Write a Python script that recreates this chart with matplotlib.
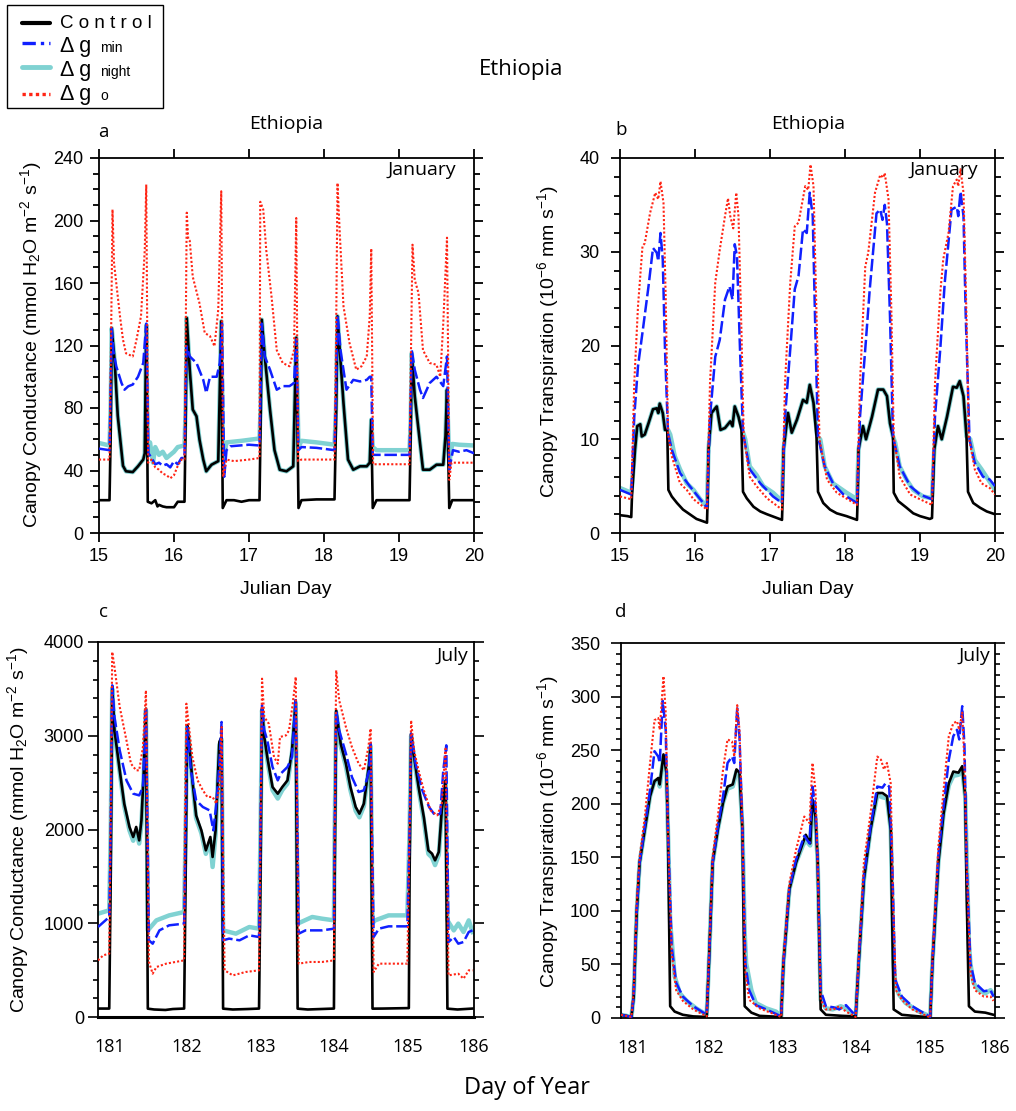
import numpy as np
import matplotlib
matplotlib.use('Agg')
import matplotlib.pyplot as plt
from matplotlib.lines import Line2D
from matplotlib.patches import Rectangle
from matplotlib.ticker import MultipleLocator, NullLocator

plt.rcParams['font.family'] = ['Liberation Sans', 'DejaVu Sans']
plt.rcParams['mathtext.fontset'] = 'custom'
plt.rcParams['mathtext.rm'] = 'Liberation Sans'
plt.rcParams['mathtext.it'] = 'Liberation Sans:italic'

# ---- data: (day, value) ----
# a: January canopy conductance
a_control = [(15.00, 21), (15.14, 21), (15.155, 60), (15.17, 131), (15.21, 109), (15.25, 75), (15.32, 43), (15.36, 39.5),
             (15.45, 39), (15.52, 42.7), (15.59, 47), (15.61, 51), (15.63, 133), (15.65, 20), (15.70, 19), (15.75, 21),
             (15.78, 17), (15.80, 18), (15.85, 17), (15.90, 16.5), (16.00, 16.5), (16.05, 20), (16.14, 20),
             (16.155, 70), (16.17, 137.6), (16.21, 104.5), (16.25, 79), (16.30, 74.7), (16.34, 59.7), (16.39, 47),
             (16.43, 39.5), (16.50, 43.7), (16.59, 46), (16.63, 135.5), (16.65, 16), (16.70, 21), (16.80, 21),
             (16.90, 20), (17.00, 21), (17.14, 21),
             (17.155, 70), (17.17, 136.5), (17.21, 113), (17.28, 79), (17.34, 53), (17.41, 40.5), (17.50, 39.5),
             (17.59, 42.7), (17.63, 125), (17.66, 16), (17.70, 21), (17.90, 21.5), (18.14, 21.5),
             (18.16, 70), (18.18, 138.7), (18.21, 117), (18.26, 83), (18.32, 47), (18.39, 40.5), (18.48, 42.7),
             (18.57, 42.7), (18.61, 45), (18.63, 72.5), (18.65, 16), (18.70, 21), (19.14, 21),
             (19.155, 60), (19.17, 115), (19.21, 87.5), (19.28, 57.6), (19.32, 40.5), (19.41, 40.5), (19.50, 43.7),
             (19.59, 43.7), (19.62, 62), (19.64, 91.7), (19.67, 16), (19.71, 21), (20.00, 21)]
a_night = [(15.00, 57.6), (15.14, 56), (15.155, 80), (15.17, 131), (15.21, 109), (15.25, 75), (15.32, 43), (15.36, 39.5),
           (15.45, 39), (15.52, 42.7), (15.59, 47), (15.61, 51), (15.63, 133), (15.65, 50), (15.68, 58), (15.72, 45),
           (15.75, 55), (15.80, 50), (15.85, 52), (15.90, 48), (15.95, 50), (16.00, 52), (16.05, 55), (16.14, 56),
           (16.155, 80), (16.17, 137.6), (16.21, 104.5), (16.25, 79), (16.30, 74.7), (16.34, 59.7), (16.39, 47),
           (16.43, 39.5), (16.50, 43.7), (16.59, 46), (16.63, 135.5), (16.655, 45), (16.70, 58), (16.90, 59), (17.14, 60.5),
           (17.155, 80), (17.17, 136.5), (17.21, 113), (17.28, 79), (17.34, 53), (17.41, 40.5), (17.50, 39.5),
           (17.59, 42.7), (17.63, 125), (17.66, 55), (17.70, 59), (17.90, 58), (18.14, 56.5),
           (18.16, 80), (18.18, 138.7), (18.21, 117), (18.26, 83), (18.32, 47), (18.39, 40.5), (18.48, 42.7),
           (18.57, 42.7), (18.61, 45), (18.63, 72.5), (18.65, 55), (18.70, 53), (19.14, 53),
           (19.155, 70), (19.17, 115), (19.21, 87.5), (19.28, 57.6), (19.32, 40.5), (19.41, 40.5), (19.50, 43.7),
           (19.59, 43.7), (19.62, 62), (19.64, 91.7), (19.67, 45), (19.71, 57), (19.80, 56.5), (20.00, 56)]
a_gmin = [(15.00, 54), (15.14, 53), (15.155, 90), (15.17, 131), (15.19, 117), (15.23, 106.7), (15.30, 96), (15.34, 91.7),
          (15.39, 93.9), (15.45, 95), (15.52, 100), (15.59, 108.8), (15.63, 134), (15.66, 51), (15.70, 48), (15.75, 44),
          (15.80, 45), (15.85, 43), (15.90, 44), (15.95, 42), (16.00, 46), (16.05, 44), (16.10, 48), (16.14, 48),
          (16.155, 90), (16.17, 119.5), (16.21, 113), (16.30, 108.8), (16.39, 98), (16.43, 89.6), (16.48, 100),
          (16.57, 100), (16.61, 108.8), (16.64, 134), (16.67, 36), (16.70, 53), (16.75, 55.5), (17.00, 56.5), (17.14, 56),
          (17.155, 90), (17.17, 134), (17.21, 113), (17.28, 104.5), (17.37, 91.7), (17.45, 94), (17.54, 94), (17.60, 96),
          (17.63, 124), (17.66, 53), (17.70, 55), (17.90, 54.5), (18.14, 53),
          (18.16, 90), (18.18, 139.7), (18.22, 117), (18.30, 91.7), (18.39, 98), (18.48, 97), (18.57, 98), (18.61, 100),
          (18.63, 100), (18.65, 50), (18.70, 50), (19.14, 50),
          (19.155, 80), (19.17, 117), (19.21, 104.5), (19.28, 91.7), (19.32, 86.4), (19.41, 96), (19.50, 100), (19.59, 94),
          (19.64, 113), (19.67, 40.5), (19.72, 53), (19.80, 52), (19.90, 53), (20.00, 51)]
a_go = [(15.00, 47), (15.14, 47), (15.16, 120), (15.18, 207), (15.20, 173), (15.23, 160), (15.28, 138.7), (15.32, 123.7),
        (15.36, 115), (15.45, 113), (15.50, 123.7), (15.56, 138.7), (15.61, 181), (15.63, 223), (15.655, 45), (15.70, 47),
        (15.75, 42), (15.80, 40.5), (15.85, 38), (15.90, 37), (15.95, 35), (16.00, 37), (16.05, 43), (16.10, 47), (16.14, 47),
        (16.155, 120), (16.17, 205), (16.19, 188), (16.21, 187), (16.25, 164), (16.34, 147), (16.41, 128), (16.48, 126),
        (16.54, 119.5), (16.59, 143), (16.63, 218.7), (16.655, 36), (16.70, 47), (16.80, 46), (17.00, 47), (17.14, 48),
        (17.15, 212), (17.19, 207), (17.23, 181), (17.30, 151.5), (17.37, 117), (17.45, 108.8), (17.54, 106.7),
        (17.60, 117), (17.63, 201.6), (17.655, 46), (17.70, 47), (18.14, 47),
        (18.16, 120), (18.18, 224), (18.21, 192), (18.26, 145), (18.34, 121.6), (18.43, 104.5), (18.50, 106.7),
        (18.57, 113), (18.61, 138.7), (18.63, 182), (18.655, 44), (19.14, 44),
        (19.155, 100), (19.18, 184.5), (19.21, 162), (19.26, 153.6), (19.32, 117), (19.41, 108.8), (19.50, 107.7),
        (19.55, 100), (19.59, 134), (19.64, 189), (19.67, 34), (19.70, 45), (20.00, 45)]

# b: January canopy transpiration
b_control = [(15.00, 1.9), (15.10, 1.8), (15.15, 1.7), (15.16, 4.0), (15.20, 8.9), (15.23, 11.4), (15.27, 11.6), (15.29, 10.3),
             (15.33, 10.5), (15.38, 11.7), (15.44, 13.2), (15.49, 13.3), (15.51, 12.8), (15.53, 13.8), (15.57, 12.8),
             (15.60, 11.0), (15.63, 11.0), (15.645, 4.6), (15.69, 3.9), (15.76, 3.2), (15.84, 2.5), (15.93, 2.0),
             (16.02, 1.5), (16.16, 1.1),
             (16.17, 4.0), (16.18, 8.9), (16.22, 12.8), (16.29, 13.5), (16.34, 11.0), (16.40, 11.2), (16.47, 11.9),
             (16.50, 11.4), (16.53, 13.5), (16.58, 12.4), (16.62, 11.0), (16.64, 4.4), (16.69, 3.7), (16.78, 2.8),
             (16.87, 2.3), (16.96, 2.0), (17.16, 1.4),
             (17.17, 4.0), (17.18, 8.9), (17.24, 12.8), (17.29, 10.7), (17.36, 12.1), (17.44, 14.2), (17.49, 13.9),
             (17.53, 15.8), (17.58, 13.9), (17.62, 10.3), (17.64, 4.4), (17.71, 3.2), (17.80, 2.5), (17.89, 2.1),
             (18.02, 1.8), (18.16, 1.4),
             (18.17, 4.0), (18.18, 8.9), (18.24, 11.4), (18.28, 10.0), (18.36, 12.4), (18.44, 15.3), (18.51, 15.3),
             (18.56, 14.6), (18.60, 11.7), (18.64, 10.3), (18.65, 4.3), (18.71, 3.4), (18.82, 2.7), (18.91, 2.1),
             (19.00, 1.8), (19.13, 1.5), (19.16, 1.6),
             (19.17, 4.0), (19.19, 8.9), (19.24, 11.4), (19.29, 10.0), (19.36, 12.4), (19.44, 15.6), (19.49, 15.5),
             (19.53, 16.2), (19.58, 14.6), (19.62, 10.3), (19.64, 4.4), (19.71, 3.2), (19.80, 2.7), (19.89, 2.3),
             (20.00, 2.0)]
b_night = [(15.00, 4.8), (15.15, 4.3), (15.16, 5.0), (15.20, 8.9), (15.23, 11.4), (15.27, 11.6), (15.29, 10.3), (15.33, 10.5),
           (15.38, 11.7), (15.44, 13.2), (15.49, 13.3), (15.51, 12.8), (15.53, 13.8), (15.57, 12.8), (15.60, 11.0),
           (15.64, 11.0), (15.67, 10.5), (15.73, 8.2), (15.80, 6.8), (15.89, 5.3), (15.98, 4.6), (16.07, 3.6), (16.16, 2.8),
           (16.18, 8.9), (16.22, 12.8), (16.29, 13.5), (16.34, 11.0), (16.40, 11.2), (16.47, 11.9), (16.50, 11.4),
           (16.53, 13.5), (16.58, 12.4), (16.63, 11.0), (16.67, 10.0), (16.73, 7.1), (16.82, 6.2), (16.91, 5.0),
           (17.04, 4.3), (17.16, 3.4),
           (17.18, 8.9), (17.24, 12.8), (17.29, 10.7), (17.36, 12.1), (17.44, 14.2), (17.49, 13.9), (17.53, 15.8),
           (17.58, 13.9), (17.63, 10.3), (17.67, 10.0), (17.73, 7.1), (17.84, 5.3), (17.93, 4.8), (18.02, 4.3), (18.16, 3.6),
           (18.18, 8.9), (18.24, 11.4), (18.28, 10.0), (18.36, 12.4), (18.44, 15.3), (18.51, 15.3), (18.56, 14.6),
           (18.60, 11.7), (18.64, 10.3), (18.67, 9.6), (18.73, 7.1), (18.82, 5.7), (18.91, 4.6), (19.04, 3.9), (19.16, 3.7),
           (19.19, 8.9), (19.24, 11.4), (19.29, 10.0), (19.36, 12.4), (19.44, 15.6), (19.49, 15.5), (19.53, 16.2),
           (19.58, 14.6), (19.62, 10.3), (19.67, 10.0), (19.73, 7.8), (19.82, 6.8), (19.91, 5.7), (20.00, 4.6)]
b_gmin = [(15.00, 4.6), (15.15, 4.1), (15.19, 12.4), (15.24, 17.8), (15.31, 22.0), (15.38, 26.3), (15.44, 30.4), (15.49, 29.9),
          (15.51, 29.0), (15.54, 32.0), (15.57, 29.2), (15.60, 19.6), (15.64, 10.7), (15.69, 8.9), (15.80, 6.4), (15.93, 5.0),
          (16.07, 3.6), (16.16, 2.7),
          (16.20, 12.4), (16.27, 18.8), (16.33, 20.6), (16.40, 24.9), (16.46, 26.3), (16.50, 24.9), (16.53, 30.8),
          (16.56, 29.5), (16.60, 19.6), (16.64, 10.7), (16.73, 6.8), (16.87, 5.3), (17.04, 3.9), (17.16, 3.2),
          (17.20, 12.4), (17.27, 19.6), (17.33, 26.0), (17.38, 27.4), (17.44, 32.4), (17.49, 32.0), (17.53, 36.3),
          (17.57, 33.8), (17.60, 23.1), (17.64, 10.3), (17.73, 7.1), (17.84, 5.3), (17.98, 4.1), (18.16, 3.2),
          (18.20, 12.4), (18.27, 19.6), (18.33, 26.0), (18.42, 34.1), (18.47, 34.5), (18.50, 33.4), (18.53, 35.0),
          (18.56, 33.0), (18.60, 23.1), (18.64, 10.3), (18.73, 7.1), (18.87, 5.0), (19.00, 4.1), (19.16, 3.6),
          (19.20, 12.4), (19.27, 19.6), (19.33, 26.7), (19.42, 34.5), (19.49, 34.8), (19.51, 33.8), (19.54, 36.4),
          (19.58, 33.8), (19.61, 23.1), (19.66, 10.0), (19.73, 7.5), (19.84, 6.0), (19.93, 5.7), (20.00, 5.0)]
b_go = [(15.00, 3.9), (15.15, 3.6), (15.19, 16.0), (15.24, 24.2), (15.30, 30.6), (15.33, 30.9), (15.40, 34.1), (15.47, 36.3),
        (15.51, 35.6), (15.54, 37.5), (15.58, 35.2), (15.61, 24.9), (15.64, 10.7), (15.69, 8.2), (15.80, 5.3), (15.89, 4.6),
        (15.98, 3.6), (16.16, 2.5),
        (16.20, 16.0), (16.27, 26.7), (16.33, 30.2), (16.40, 33.8), (16.44, 35.7), (16.47, 33.8), (16.51, 32.5),
        (16.55, 36.3), (16.58, 33.8), (16.62, 21.3), (16.65, 10.3), (16.73, 6.0), (16.82, 5.0), (16.96, 3.7), (17.16, 2.5),
        (17.20, 16.0), (17.27, 26.7), (17.33, 32.7), (17.38, 33.1), (17.47, 37.0), (17.51, 36.6), (17.54, 39.3),
        (17.58, 37.0), (17.61, 26.7), (17.66, 10.0), (17.76, 5.7), (17.89, 4.3), (18.16, 3.0),
        (18.20, 16.0), (18.27, 28.4), (18.31, 29.9), (18.40, 36.3), (18.47, 38.2), (18.51, 37.9), (18.53, 38.4),
        (18.58, 35.6), (18.62, 23.1), (18.65, 10.3), (18.73, 6.0), (18.87, 4.1), (19.00, 3.6), (19.16, 3.0),
        (19.20, 16.0), (19.27, 25.6), (19.31, 29.2), (19.38, 32.0), (19.44, 37.0), (19.49, 37.7), (19.51, 37.0),
        (19.54, 38.8), (19.58, 36.3), (19.62, 23.1), (19.65, 10.3), (19.73, 6.8), (19.82, 5.3), (19.93, 4.8), (20.00, 4.1)]

# c: July canopy conductance
c_control = [(181.00, 90), (181.15, 90), (181.17, 1500), (181.19, 3520), (181.22, 3058), (181.29, 2631), (181.35, 2276),
             (181.42, 2027), (181.47, 1920), (181.51, 2027), (181.55, 1884), (181.58, 2098), (181.61, 2596), (181.64, 3289),
             (181.665, 89), (181.75, 80), (181.90, 75), (182.00, 85), (182.15, 90),
             (182.17, 1500), (182.19, 3111), (182.21, 2987), (182.26, 2524), (182.31, 2151), (182.38, 1991), (182.44, 1778),
             (182.50, 1920), (182.53, 1707), (182.57, 1991), (182.62, 2933), (182.65, 2987), (182.67, 89), (182.80, 80),
             (183.00, 85), (183.15, 90),
             (183.17, 1500), (183.19, 3289), (183.22, 2987), (183.26, 2773), (183.33, 2453), (183.40, 2382), (183.46, 2453),
             (183.53, 2524), (183.59, 2844), (183.64, 3378), (183.665, 89), (183.80, 80), (184.15, 90),
             (184.16, 1500), (184.18, 3271), (184.24, 2916), (184.31, 2702), (184.37, 2453), (184.44, 2240), (184.49, 2169),
             (184.55, 2276), (184.62, 2702), (184.64, 2916), (184.665, 89), (184.80, 90), (185.15, 95),
             (185.16, 1500), (185.18, 3022), (185.22, 2773), (185.28, 2453), (185.35, 2133), (185.41, 1778), (185.46, 1742),
             (185.50, 1671), (185.55, 1760), (185.59, 2204), (185.64, 2524), (185.665, 89), (185.80, 80), (186.00, 90)]
c_night = [(181.00, 1102), (181.15, 1138), (181.17, 2000), (181.19, 3500), (181.22, 3040), (181.29, 2610), (181.35, 2250),
           (181.42, 1990), (181.47, 1880), (181.51, 1990), (181.55, 1850), (181.58, 2060), (181.61, 2570), (181.64, 3270),
           (181.665, 924), (181.78, 1031), (181.95, 1084), (182.15, 1120),
           (182.17, 2000), (182.19, 3090), (182.21, 2960), (182.26, 2500), (182.31, 2120), (182.38, 1960), (182.44, 1740),
           (182.50, 1880), (182.53, 1600), (182.57, 1950), (182.62, 2900), (182.65, 2960), (182.67, 924), (182.84, 889),
           (183.02, 960), (183.15, 942),
           (183.17, 2000), (183.19, 3270), (183.22, 2960), (183.26, 2740), (183.33, 2420), (183.40, 2330), (183.46, 2420),
           (183.53, 2490), (183.59, 2820), (183.64, 3350), (183.665, 996), (183.86, 1067), (183.99, 1049), (184.15, 1031),
           (184.16, 2000), (184.18, 3250), (184.24, 2890), (184.31, 2670), (184.37, 2420), (184.44, 2200), (184.49, 2130),
           (184.55, 2250), (184.62, 2680), (184.64, 2890), (184.665, 1000), (184.70, 1031), (184.88, 1084), (185.13, 1084),
           (185.16, 2000), (185.18, 3000), (185.22, 2750), (185.28, 2430), (185.35, 2100), (185.41, 1740), (185.46, 1700),
           (185.50, 1620), (185.55, 1730), (185.59, 2180), (185.64, 2500), (185.665, 1031), (185.75, 924), (185.81, 996),
           (185.88, 907), (185.95, 1031), (186.00, 907)]
c_gmin = [(181.00, 960), (181.10, 1031), (181.15, 1067), (181.17, 2000), (181.19, 3538), (181.22, 3200), (181.29, 2844),
          (181.38, 2524), (181.47, 2382), (181.55, 2364), (181.60, 2453), (181.64, 3307), (181.68, 818), (181.73, 782),
          (181.82, 924), (181.95, 978), (182.15, 996),
          (182.17, 2000), (182.19, 3093), (182.24, 2631), (182.31, 2311), (182.40, 2240), (182.49, 2204), (182.54, 1991),
          (182.58, 2276), (182.62, 2700), (182.65, 3147), (182.67, 818), (182.75, 836), (182.89, 818), (183.02, 871),
          (183.15, 853),
          (183.17, 2000), (183.19, 3324), (183.22, 3058), (183.26, 2951), (183.33, 2667), (183.40, 2524), (183.44, 2596),
          (183.53, 2667), (183.59, 2773), (183.64, 3396), (183.68, 889), (183.77, 924), (183.99, 924), (184.15, 942),
          (184.16, 2000), (184.18, 3271), (184.22, 3058), (184.31, 2809), (184.39, 2560), (184.48, 2400), (184.55, 2418),
          (184.62, 2631), (184.64, 2916), (184.68, 853), (184.75, 942), (184.88, 967), (185.13, 967),
          (185.16, 2000), (185.18, 3022), (185.24, 2702), (185.33, 2418), (185.42, 2240), (185.50, 2151), (185.57, 2169),
          (185.61, 2631), (185.65, 2898), (185.68, 800), (185.75, 853), (185.81, 782), (185.88, 800), (185.95, 907),
          (186.00, 924)]
c_go = [(181.00, 604), (181.07, 658), (181.15, 676), (181.17, 2200), (181.19, 3894), (181.22, 3733), (181.29, 3307),
        (181.38, 2951), (181.44, 2702), (181.51, 2631), (181.55, 2631), (181.60, 2880), (181.64, 3484), (181.68, 587),
        (181.73, 462), (181.78, 533), (181.91, 569), (182.15, 604),
        (182.16, 2000), (182.18, 3342), (182.22, 3058), (182.26, 2773), (182.33, 2524), (182.40, 2418), (182.46, 2347),
        (182.53, 2347), (182.58, 2276), (182.62, 2453), (182.65, 3093), (182.69, 498), (182.80, 444), (182.97, 480),
        (183.15, 498),
        (183.17, 2000), (183.19, 3609), (183.22, 3200), (183.28, 3129), (183.35, 2773), (183.40, 2702), (183.43, 2987),
        (183.51, 3004), (183.55, 3058), (183.60, 3342), (183.64, 3627), (183.68, 569), (183.82, 587), (183.99, 587),
        (184.15, 604),
        (184.16, 2000), (184.18, 3698), (184.22, 3378), (184.31, 3093), (184.39, 2880), (184.48, 2702), (184.55, 2631),
        (184.61, 2880), (184.64, 3076), (184.68, 480), (184.75, 569), (185.13, 569),
        (185.16, 2000), (185.18, 3164), (185.22, 2844), (185.28, 2631), (185.35, 2418), (185.44, 2204), (185.53, 2151),
        (185.59, 2276), (185.64, 2862), (185.68, 444), (185.81, 462), (185.88, 409), (185.95, 498), (186.00, 498)]

# d: July canopy transpiration
d_control = [(181.00, 3), (181.14, 1), (181.17, 20), (181.21, 98), (181.25, 145), (181.32, 176), (181.39, 207), (181.45, 221),
             (181.50, 224), (181.52, 218), (181.57, 246), (181.61, 229), (181.63, 176), (181.66, 11), (181.72, 6),
             (181.83, 3), (181.97, 1.5), (182.15, 1),
             (182.18, 51), (182.23, 145), (182.30, 176), (182.37, 201), (182.43, 216), (182.50, 218), (182.55, 232),
             (182.59, 229), (182.63, 176), (182.66, 11), (182.75, 5), (182.86, 2), (183.15, 1),
             (183.18, 51), (183.26, 120), (183.35, 145), (183.44, 163), (183.48, 171), (183.54, 163), (183.57, 204),
             (183.61, 188), (183.64, 145), (183.68, 8), (183.75, 3), (183.97, 2), (184.15, 1.5),
             (184.19, 51), (184.26, 129), (184.35, 176), (184.44, 210), (184.51, 210), (184.57, 207), (184.62, 176),
             (184.66, 8), (184.77, 3), (185.00, 1.5), (185.15, 0.5),
             (185.18, 51), (185.26, 145), (185.33, 191), (185.40, 219), (185.46, 230), (185.53, 229), (185.58, 235),
             (185.62, 207), (185.64, 114), (185.67, 11), (185.75, 6), (185.89, 5), (186.00, 3)]
d_night = [(181.00, 3), (181.14, 1), (181.17, 20), (181.21, 98), (181.25, 145), (181.32, 176), (181.39, 207), (181.45, 221),
           (181.50, 222), (181.52, 216), (181.57, 244), (181.61, 229), (181.63, 176), (181.66, 90), (181.68, 73),
           (181.72, 39), (181.79, 23), (181.88, 16), (182.01, 9), (182.15, 3),
           (182.18, 51), (182.23, 145), (182.30, 176), (182.37, 201), (182.43, 214), (182.50, 216), (182.55, 230),
           (182.59, 227), (182.63, 176), (182.66, 80), (182.68, 51), (182.75, 26), (182.81, 14), (182.95, 9), (183.08, 6),
           (183.15, 1.5),
           (183.18, 51), (183.26, 120), (183.35, 145), (183.44, 161), (183.48, 166), (183.54, 161), (183.57, 202),
           (183.61, 186), (183.64, 145), (183.68, 17), (183.75, 9), (183.84, 8), (183.95, 11), (184.02, 9), (184.15, 1.5),
           (184.19, 51), (184.26, 129), (184.35, 176), (184.44, 208), (184.51, 206), (184.57, 205), (184.62, 176),
           (184.66, 50), (184.68, 33), (184.73, 22), (184.82, 14), (185.00, 6), (185.15, 1.5),
           (185.18, 51), (185.26, 145), (185.33, 191), (185.40, 217), (185.46, 226), (185.53, 227), (185.58, 232),
           (185.62, 207), (185.64, 150), (185.67, 70), (185.69, 51), (185.73, 33), (185.80, 26), (185.89, 23),
           (185.96, 26), (186.00, 22)]
d_gmin = [(181.00, 3), (181.14, 1), (181.17, 20), (181.21, 98), (181.25, 145), (181.32, 179), (181.39, 213), (181.45, 249),
          (181.50, 244), (181.52, 238), (181.56, 296), (181.60, 269), (181.63, 176), (181.68, 67), (181.74, 33),
          (181.83, 20), (181.97, 11), (182.15, 3),
          (182.18, 51), (182.23, 145), (182.30, 179), (182.37, 207), (182.43, 238), (182.49, 244), (182.52, 238),
          (182.56, 289), (182.59, 263), (182.63, 176), (182.67, 51), (182.72, 26), (182.81, 12), (182.95, 8), (183.15, 1.5),
          (183.18, 51), (183.26, 121), (183.35, 148), (183.46, 170), (183.53, 163), (183.57, 216), (183.61, 198),
          (183.64, 145), (183.68, 26), (183.75, 11), (183.85, 10), (183.93, 8), (184.02, 12), (184.15, 2),
          (184.19, 51), (184.26, 132), (184.35, 179), (184.44, 216), (184.51, 215), (184.55, 219), (184.60, 216),
          (184.64, 145), (184.68, 36), (184.77, 20), (184.91, 11), (185.15, 1),
          (185.18, 51), (185.26, 151), (185.33, 198), (185.40, 241), (185.46, 263), (185.51, 269), (185.54, 260),
          (185.58, 291), (185.61, 254), (185.64, 145), (185.69, 51), (185.75, 33), (185.87, 25), (185.96, 26), (186.00, 20)]
d_go = [(181.00, 3), (181.14, 1), (181.17, 25), (181.21, 107), (181.25, 150), (181.32, 188), (181.39, 238), (181.45, 278),
        (181.50, 280), (181.52, 269), (181.57, 319), (181.60, 285), (181.63, 176), (181.68, 61), (181.74, 26), (181.83, 16),
        (181.97, 8), (182.15, 1.5),
        (182.18, 55), (182.23, 151), (182.30, 188), (182.37, 232), (182.43, 260), (182.49, 258), (182.52, 244),
        (182.56, 292), (182.59, 269), (182.63, 176), (182.67, 42), (182.72, 17), (182.86, 9), (183.15, 1),
        (183.18, 55), (183.26, 126), (183.35, 157), (183.46, 188), (183.53, 182), (183.57, 238), (183.61, 213),
        (183.64, 145), (183.68, 17), (183.75, 8), (183.85, 8), (183.93, 11), (184.02, 6), (184.15, 1),
        (184.19, 55), (184.26, 145), (184.35, 191), (184.44, 244), (184.49, 241), (184.53, 232), (184.57, 238),
        (184.62, 219), (184.65, 114), (184.69, 26), (184.77, 17), (184.91, 8), (185.15, 0.5),
        (185.18, 55), (185.26, 160), (185.33, 213), (185.40, 263), (185.46, 275), (185.51, 277), (185.54, 269),
        (185.58, 285), (185.61, 238), (185.64, 145), (185.69, 42), (185.75, 26), (185.87, 20), (185.96, 20), (186.00, 16)]

july_tick_labels = ['181', '182', '183', '184', '185', '186']
july_tick_pos = [181.16, 182.18, 183.17, 184.15, 185.14, 186.02]

# ---- figure ----
W, H = 1016, 1111
fig = plt.figure(figsize=(W / 100, H / 100), dpi=100)


def fx(x):
    return x / W


def fy(y):
    return 1 - y / H


C_NIGHT = '#80d2d2'
C_MIN = '#1020ff'
C_GO = '#ff2414'
SERIF = ['Open Sans', 'DejaVu Sans']


def draw(ax, control, night, gmin, go):
    ax.plot(*np.array(night).T, color=C_NIGHT, lw=3.2, zorder=2)
    ax.plot(*np.array(control).T, color='black', lw=1.9, zorder=3)
    ax.plot(*np.array(gmin).T, color=C_MIN, lw=1.8, ls=(0, (5, 1.5)), zorder=4)
    ax.plot(*np.array(go).T, color=C_GO, lw=1.5, ls=(0, (1, 1)), zorder=5)
    for s in ax.spines.values():
        s.set_linewidth(1.3)


ax_a = fig.add_axes([fx(99), fy(533), 375 / W, 375 / H])
ax_b = fig.add_axes([fx(620), fy(533), 375 / W, 375 / H])
ax_c = fig.add_axes([fx(98), fy(1017), 376 / W, 375 / H])
ax_d = fig.add_axes([fx(621), fy(1018), 374 / W, 375 / H])

draw(ax_a, a_control, a_night, a_gmin, a_go)
draw(ax_b, b_control, b_night, b_gmin, b_go)
draw(ax_c, c_control, c_night, c_gmin, c_go)
draw(ax_d, d_control, d_night, d_gmin, d_go)

# January panels
for ax, ymax, major, minor, pad in [(ax_a, 240, 40, 10, 4.5), (ax_b, 40, 10, 2, 8)]:
    ax.set_xlim(15, 20)
    ax.set_ylim(0, ymax)
    ax.xaxis.set_major_locator(MultipleLocator(1))
    ax.xaxis.set_minor_locator(NullLocator())
    ax.yaxis.set_major_locator(MultipleLocator(major))
    ax.yaxis.set_minor_locator(MultipleLocator(minor))
    ax.tick_params(which='both', direction='out', top=True, right=True, labelsize=13, width=1.3)
    ax.tick_params(which='major', length=6.5)
    ax.tick_params(which='minor', length=4)
    ax.tick_params(axis='y', pad=pad)
    ax.tick_params(axis='x', pad=4)

# July panels
for ax, ymax, major, minor, pad in [(ax_c, 4000, 1000, 200, 3), (ax_d, 350, 50, 10, 8)]:
    ax.set_xlim(181, 186)
    ax.set_ylim(0, ymax)
    ax.yaxis.set_major_locator(MultipleLocator(major))
    ax.yaxis.set_minor_locator(MultipleLocator(minor))
    ax.tick_params(axis='y', which='both', direction='out', right=True, labelsize=13, width=1.2, pad=pad)
    ax.tick_params(axis='y', which='major', length=7)
    ax.tick_params(axis='y', which='minor', length=3.5)
    ax.set_xticks(july_tick_pos, july_tick_labels)
    ax.xaxis.set_minor_locator(NullLocator())
    ax.tick_params(axis='x', length=0, pad=15, labelsize=13)
    for lab in ax.get_xticklabels():
        lab.set_family(SERIF)
ax_c.spines['bottom'].set_linewidth(2.2)

# y labels
ylab_g = 'Canopy Conductance (mmol H$_2$O m$^{-2}$ s$^{-1}$)'
ylab_t = 'Canopy Transpiration (10$^{-6}$ mm s$^{-1}$)'
for x, y, s in [(31, 345, ylab_g), (548, 342, ylab_t), (18, 830, ylab_g), (548, 832, ylab_t)]:
    fig.text(fx(x), fy(y), s, rotation=90, ha='center', va='center', fontsize=14)

# titles and labels
fig.text(fx(521), fy(69), 'Ethiopia', ha='center', va='center', fontsize=16, family=SERIF)
for x in (286, 808):
    fig.text(fx(x), fy(124), 'Ethiopia', ha='center', va='center', fontsize=14, family=SERIF)
    fig.text(fx(x), fy(590), 'Julian Day', ha='center', va='center', fontsize=14)
for x, y, s in [(103, 132, 'a'), (621, 130, 'b'), (103, 612, 'c'), (621, 612, 'd')]:
    fig.text(fx(x), fy(y), s, ha='center', va='center', fontsize=13.5, family=SERIF)
for x, y, s in [(456, 170, 'January'), (978, 170, 'January'), (468, 656, 'July'), (990, 656, 'July')]:
    fig.text(fx(x), fy(y), s, ha='right', va='center', fontsize=14, family=SERIF)
fig.text(fx(527), fy(1088), 'Day of Year', ha='center', va='center', fontsize=17, family=SERIF)

# legend box
fig.add_artist(Rectangle((fx(7), fy(108)), 156 / W, 103 / H, transform=fig.transFigure,
                         fill=False, edgecolor='black', lw=1.0))
leg = [('black', 3.0, '-', 22.5), (C_MIN, 2.4, (0, (4, 1.5, 1, 1.5)), 43), (C_NIGHT, 3.5, '-', 66.5),
       (C_GO, 2.4, (0, (1, 1)), 94)]
for col, lw, ls, y in leg:
    fig.add_artist(Line2D([fx(22), fx(50)], [fy(y), fy(y)], transform=fig.transFigure,
                          color=col, lw=lw, ls=ls, solid_capstyle='round'))
fig.text(fx(60), fy(28), 'C o n t r o l', fontsize=13.5, va='baseline')
for y, sub in [(52, 'min'), (76, 'night'), (100, 'o')]:
    fig.text(fx(60), fy(y), 'Δ g', fontsize=15.5, va='baseline')
    fig.text(fx(100), fy(y), sub, fontsize=10, va='baseline')

fig.savefig('out.png', dpi=100)
